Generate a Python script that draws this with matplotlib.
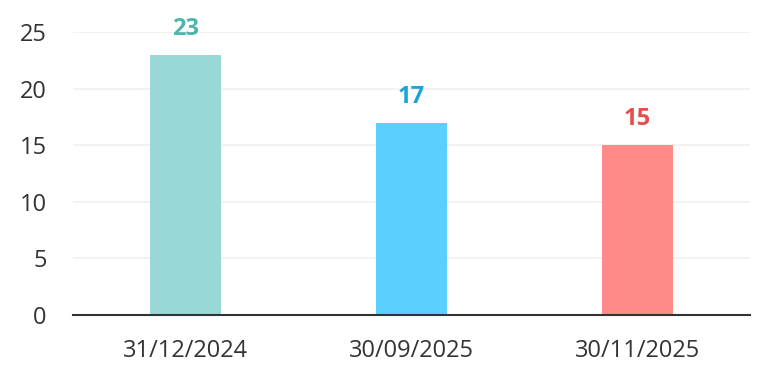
import matplotlib.pyplot as plt

dates = ['31/12/2024', '30/09/2025', '30/11/2025']
counts = [23, 17, 15]
bar_colors = ['#99d8d6', '#5bd0ff', '#ff8a8a']
label_colors = ['#4db6ac', '#1ba4d8', '#e84c4c']
yticks = [0, 5, 10, 15, 20, 25]

plt.rcParams['font.family'] = ['Open Sans', 'DejaVu Sans']

fig = plt.figure(figsize=(7.66, 3.84), dpi=100)
ax = fig.add_axes([73/766, 1 - 315/384, 677/766, 283/384])

x = range(len(dates))
bars = ax.bar(x, counts, width=0.315, color=bar_colors, zorder=2)

# value labels above the bars
for b, v, c in zip(bars, counts, label_colors):
    ax.annotate(str(v), (b.get_x() + b.get_width()/2, v), xytext=(0, 10),
                textcoords='offset points', ha='center', va='bottom',
                fontsize=17, fontweight='bold', color=c)

ax.set_xlim(-0.5, 2.5)
ax.set_ylim(0, 25)
ax.set_yticks(yticks)
ax.set_xticks(list(x))
ax.set_xticklabels(dates)
ax.yaxis.grid(True, color='#f0f0f0', linewidth=1.2, zorder=0)
ax.set_axisbelow(True)

for s in ['top', 'right', 'left']:
    ax.spines[s].set_visible(False)
ax.spines['bottom'].set_color('#333333')
ax.spines['bottom'].set_linewidth(1.5)
ax.spines['bottom'].set_zorder(3)

ax.tick_params(axis='both', length=0, labelsize=17, labelcolor='#333333')
ax.tick_params(axis='y', pad=19)
ax.tick_params(axis='x', pad=17)

fig.savefig('out.png', dpi=100)
